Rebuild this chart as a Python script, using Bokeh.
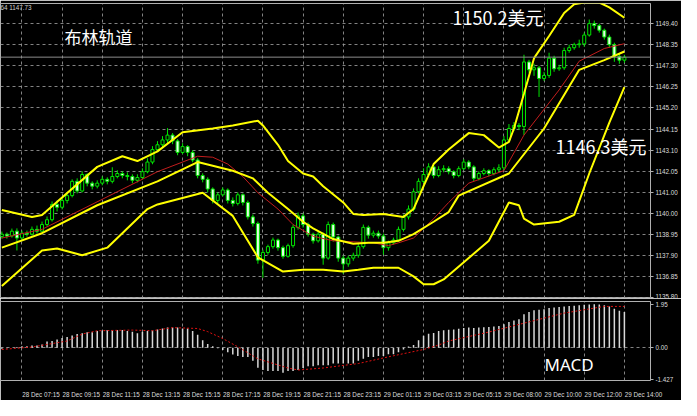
from bokeh.plotting import figure
from bokeh.models import Range1d, FixedTicker, Label, Span, ColumnDataSource
from bokeh.layouts import column
from bokeh.embed import file_html
from bokeh.resources import INLINE

# ---------------- data (M15 candles, bar index 0..124) ----------------
opens = [1138.80, 1138.92, 1138.83, 1139.07, 1138.73, 1138.97, 1138.92, 1139.16, 1139.07, 1139.40,
         1139.64, 1140.40, 1140.26, 1140.60, 1140.84, 1141.55, 1141.07, 1141.89, 1141.46, 1141.31,
         1141.46, 1141.65, 1141.55, 1141.79, 1141.94, 1141.84, 1141.79, 1141.60, 1141.74, 1142.03,
         1142.51, 1143.13, 1143.37, 1143.61, 1143.85, 1143.56, 1142.99, 1143.28, 1142.99, 1142.61,
         1141.84, 1141.65, 1141.17, 1140.60, 1140.88, 1141.12, 1140.60, 1140.45, 1140.88, 1140.50,
         1139.78, 1139.45, 1137.63, 1138.01, 1138.30, 1138.63, 1138.25, 1137.82, 1138.35, 1139.26,
         1139.83, 1139.40, 1138.92, 1138.59, 1138.92, 1137.73, 1139.40, 1138.78, 1137.73, 1137.44,
         1137.73, 1137.87, 1138.30, 1139.26, 1138.87, 1138.97, 1138.83, 1138.25, 1138.49, 1138.63,
         1139.16, 1139.78, 1140.17, 1141.03, 1141.55, 1141.89, 1142.27, 1141.84, 1142.13, 1142.18,
         1142.03, 1141.84, 1142.18, 1142.51, 1142.27, 1141.70, 1141.94, 1142.08, 1141.94, 1142.13,
         1142.22, 1143.61, 1144.18, 1144.33, 1144.28, 1147.49, 1147.10, 1147.20, 1146.67, 1146.82,
         1147.68, 1147.15, 1147.20, 1148.06, 1148.20, 1148.35, 1148.39, 1148.83, 1149.40, 1149.30,
         1149.07, 1148.73, 1148.35, 1147.77, 1147.58]
closes = [1138.92, 1138.83, 1139.07, 1138.73, 1138.97, 1138.92, 1139.16, 1139.07, 1139.40, 1139.64,
          1140.40, 1140.26, 1140.60, 1140.84, 1141.55, 1141.07, 1141.89, 1141.46, 1141.31, 1141.46,
          1141.65, 1141.55, 1141.79, 1141.94, 1141.84, 1141.79, 1141.60, 1141.74, 1142.03, 1142.51,
          1143.13, 1143.37, 1143.61, 1143.85, 1143.56, 1142.99, 1143.28, 1142.99, 1142.61, 1141.84,
          1141.65, 1141.17, 1140.60, 1140.88, 1141.12, 1140.60, 1140.45, 1140.88, 1140.50, 1139.78,
          1139.45, 1137.63, 1138.01, 1138.30, 1138.63, 1138.25, 1137.82, 1138.35, 1139.26, 1139.83,
          1139.40, 1138.92, 1138.59, 1138.92, 1137.73, 1139.40, 1138.78, 1137.73, 1137.44, 1137.73,
          1137.87, 1138.30, 1139.26, 1138.87, 1138.97, 1138.83, 1138.25, 1138.49, 1138.63, 1139.16,
          1139.78, 1140.17, 1141.03, 1141.55, 1141.89, 1142.27, 1141.84, 1142.13, 1142.18, 1142.03,
          1141.84, 1142.18, 1142.51, 1142.27, 1141.70, 1141.94, 1142.08, 1141.94, 1142.13, 1142.22,
          1143.61, 1144.18, 1144.33, 1144.28, 1147.49, 1147.10, 1147.20, 1146.67, 1146.82, 1147.68,
          1147.15, 1147.20, 1148.06, 1148.20, 1148.35, 1148.39, 1148.83, 1149.40, 1149.30, 1149.07,
          1148.73, 1148.35, 1147.77, 1147.58, 1147.73]
highs = [1139.05, 1139.00, 1139.20, 1139.21, 1139.10, 1139.10, 1139.30, 1139.35, 1139.55, 1139.80,
         1140.55, 1140.60, 1140.75, 1141.00, 1141.65, 1141.70, 1142.05, 1141.95, 1141.55, 1141.60,
         1141.80, 1141.75, 1142.25, 1142.10, 1142.05, 1142.00, 1141.90, 1141.90, 1142.20, 1142.70,
         1143.30, 1143.55, 1143.80, 1144.20, 1143.95, 1143.65, 1143.45, 1143.35, 1143.10, 1142.70,
         1141.95, 1141.75, 1141.25, 1141.00, 1141.25, 1141.20, 1140.75, 1141.00, 1140.95, 1140.60,
         1139.90, 1139.55, 1138.15, 1138.40, 1138.75, 1138.70, 1138.35, 1138.45, 1139.40, 1140.00,
         1139.95, 1139.50, 1139.00, 1139.05, 1139.00, 1139.55, 1139.50, 1138.85, 1137.85, 1137.85,
         1138.00, 1138.45, 1139.40, 1139.35, 1139.10, 1139.10, 1138.95, 1138.60, 1138.75, 1139.30,
         1139.90, 1140.35, 1141.20, 1141.70, 1142.20, 1142.45, 1142.35, 1142.30, 1142.35, 1142.30,
         1142.10, 1142.30, 1142.65, 1142.60, 1142.35, 1142.05, 1142.20, 1142.15, 1142.25, 1142.40,
         1143.80, 1144.40, 1144.50, 1144.45, 1147.85, 1147.60, 1147.40, 1147.30, 1147.00, 1147.95,
         1147.80, 1147.35, 1148.20, 1148.35, 1148.45, 1148.60, 1148.95, 1149.60, 1149.55, 1149.40,
         1149.15, 1148.85, 1148.45, 1147.90, 1147.85]
lows = [1138.70, 1138.70, 1138.75, 1138.11, 1138.60, 1138.80, 1138.85, 1138.95, 1139.00, 1139.30,
        1139.55, 1140.05, 1140.15, 1140.45, 1140.75, 1140.95, 1141.00, 1141.30, 1141.15, 1141.20,
        1141.35, 1141.40, 1141.45, 1141.70, 1141.70, 1141.60, 1141.45, 1141.50, 1141.65, 1141.95,
        1142.40, 1143.00, 1143.25, 1143.45, 1143.40, 1142.85, 1142.90, 1142.80, 1142.50, 1141.70,
        1141.50, 1141.00, 1140.45, 1140.45, 1140.80, 1140.45, 1140.30, 1140.35, 1140.35, 1139.65,
        1139.30, 1137.45, 1136.75, 1137.90, 1138.20, 1138.10, 1137.70, 1137.75, 1138.25, 1139.15,
        1139.25, 1138.80, 1138.45, 1138.50, 1137.40, 1137.65, 1138.55, 1137.55, 1136.95, 1137.30,
        1137.60, 1137.75, 1138.20, 1138.70, 1138.75, 1138.70, 1137.90, 1138.10, 1138.40, 1138.55,
        1139.05, 1139.65, 1140.05, 1140.95, 1141.45, 1141.80, 1141.70, 1141.75, 1142.00, 1141.90,
        1141.70, 1141.75, 1142.10, 1142.15, 1141.55, 1141.60, 1141.85, 1141.80, 1141.85, 1142.00,
        1142.10, 1143.50, 1144.05, 1144.10, 1143.85, 1146.95, 1146.80, 1145.75, 1146.55, 1146.70,
        1147.00, 1147.05, 1147.10, 1147.95, 1148.10, 1148.20, 1148.25, 1148.75, 1149.15, 1148.95,
        1148.60, 1148.20, 1147.50, 1147.40, 1147.45]

# Bollinger band (yellow) read at sample bars
upper_bar = [0, 6, 8, 19, 24, 27, 31, 36, 42, 46, 51, 52, 55, 57, 60, 62, 64, 68, 70, 72, 76, 80, 82,
             84, 86, 89, 93, 96, 99, 101, 102, 104, 106, 109, 112, 114, 116, 119, 121, 124]
upper_val = [1140.12, 1139.78, 1139.88, 1142.27, 1142.80, 1142.56, 1143.04, 1143.99, 1144.18, 1144.33,
             1144.57, 1144.33, 1143.37, 1142.56, 1141.94, 1141.79, 1141.31, 1140.50, 1139.93, 1139.88,
             1139.93, 1139.78, 1140.17, 1141.31, 1142.41, 1143.13, 1143.95, 1143.85, 1143.23, 1143.51,
             1144.18, 1145.91, 1147.68, 1148.78, 1149.93, 1150.36, 1150.45, 1150.45, 1150.21, 1149.69]
middle_bar = [0, 8, 19, 31, 39, 46, 50, 53, 57, 60, 62, 66, 70, 73, 76, 79, 82, 86, 89, 91, 101, 108,
              115, 120, 124]
middle_val = [1138.25, 1138.97, 1140.36, 1141.55, 1142.51, 1142.08, 1141.70, 1140.98, 1140.17, 1139.54,
              1139.21, 1138.68, 1138.44, 1138.49, 1138.49, 1138.59, 1138.92, 1139.54, 1140.02, 1140.84,
              1141.94, 1144.18, 1147.10, 1147.58, 1148.01]
lower_bar = [0, 8, 11, 16, 21, 29, 31, 40, 46, 51, 56, 60, 64, 68, 71, 74, 79, 82, 84, 86, 88, 97,
             101, 103, 104, 106, 111, 114, 117, 121, 124]
lower_val = [1136.34, 1138.11, 1138.21, 1137.87, 1138.25, 1140.17, 1140.40, 1140.98, 1139.83, 1137.77,
             1137.06, 1137.15, 1137.15, 1137.06, 1137.15, 1137.25, 1137.25, 1136.82, 1136.43, 1136.43,
             1136.67, 1138.59, 1140.50, 1140.36, 1139.69, 1139.40, 1139.54, 1139.88, 1141.94, 1144.47,
             1146.24]
# red moving average
ma_bar = [0, 8, 31, 39, 42, 45, 48, 51, 55, 58, 62, 66, 74, 77, 79, 82, 86, 89, 93, 100, 104, 111,
          115, 120, 124]
ma_val = [1138.73, 1139.16, 1142.03, 1142.80, 1142.75, 1142.41, 1141.79, 1140.98, 1140.17, 1139.40,
          1138.82, 1138.59, 1138.49, 1138.35, 1138.49, 1138.73, 1139.69, 1140.50, 1141.46, 1142.08,
          1143.85, 1146.10, 1147.53, 1148.16, 1148.40]

# MACD histogram per bar and signal line samples
macd = [-0.05, -0.03, 0.00, 0.03, 0.07, 0.07, 0.10, 0.10, 0.14, 0.28,
        0.30, 0.37, 0.44, 0.48, 0.55, 0.61, 0.65, 0.69, 0.69, 0.75,
        0.77, 0.79, 0.79, 0.79, 0.79, 0.75, 0.72, 0.65, 0.72, 0.75,
        0.77, 0.82, 0.86, 0.90, 0.90, 0.90, 0.86, 0.86, 0.75, 0.58,
        0.33, 0.17, 0.07, -0.03, -0.10, -0.20, -0.30, -0.37, -0.42, -0.42,
        -0.58, -0.90, -1.00, -1.04, -1.04, -1.04, -1.12, -1.04, -1.04, -1.00,
        -0.91, -0.83, -0.83, -0.79, -0.79, -0.79, -0.71, -0.71, -0.71, -0.71,
        -0.71, -0.58, -0.50, -0.42, -0.42, -0.37, -0.37, -0.29, -0.29, -0.20,
        -0.08, 0.05, 0.12, 0.33, 0.54, 0.62, 0.66, 0.75, 0.78, 0.80,
        0.82, 0.85, 0.88, 0.90, 0.88, 0.90, 0.92, 0.93, 0.95, 0.97,
        1.05, 1.15, 1.22, 1.28, 1.50, 1.60, 1.68, 1.70, 1.72, 1.78,
        1.80, 1.82, 1.85, 1.87, 1.88, 1.90, 1.92, 1.94, 1.95, 1.94,
        1.90, 1.85, 1.75, 1.65, 1.60]
signal_bar = [0, 6, 13, 16, 19, 26, 30, 34, 39, 41, 44, 47, 51, 57, 59, 64, 71, 77, 84, 87, 89, 97,
              104, 112, 120, 124]
signal_val = [-0.08, 0.03, 0.30, 0.61, 0.76, 0.79, 0.76, 0.90, 0.86, 0.72, 0.41, 0.04, -0.50, -0.91,
              -1.00, -0.91, -0.71, -0.41, -0.08, 0.12, 0.30, 0.70, 1.10, 1.55, 1.85, 1.85]

# axes
time_bars = [4, 12, 20, 28, 36, 44, 52, 60, 68, 76, 84, 92, 100, 108, 116, 124]
time_labels = ["28 Dec 07:15", "28 Dec 09:15", "28 Dec 11:15", "28 Dec 13:15", "28 Dec 15:15",
               "28 Dec 17:15", "28 Dec 19:15", "28 Dec 21:15", "28 Dec 23:15", "29 Dec 01:15",
               "29 Dec 03:15", "29 Dec 05:15", "29 Dec 08:00", "29 Dec 10:00", "29 Dec 12:00",
               "29 Dec 14:00"]
price_ticks = [1149.40, 1148.35, 1147.30, 1146.25, 1145.20, 1144.15, 1143.10, 1142.05, 1141.00,
               1139.95, 1138.90, 1137.85, 1136.80, 1135.75]
price_labels = ["1149.40", "1148.35", "1147.30", "1146.25", "1145.20", "1144.15", "1143.10",
                "1142.05", "1141.00", "1140.00", "1138.95", "1137.90", "1136.85", "1135.80"]
macd_ticks = [1.95, 0.0, -1.427]
macd_labels = ["1.95", "0.00", "-1.427"]

# ---------------- styling ----------------
BG = "black"
GRID = "#9a9a9a"
AXTXT = "#dcdcdc"
LIME = "#00e400"
AXFONT = "Liberation Sans"
AXSIZE = "6.3px"
CJK = "Noto Sans CJK SC"

xr = Range1d(-0.27, 129.2)

p = figure(width=681, height=298, x_range=xr, y_range=Range1d(1135.72, 1150.40),
           output_backend="svg", toolbar_location=None, x_axis_location=None,
           y_axis_location="right", min_border_top=3, min_border_bottom=0,
           min_border_left=0, min_border_right=31,
           background_fill_color=BG, border_fill_color=BG, outline_line_color="#b0b0b0")

p.xgrid.ticker = FixedTicker(ticks=time_bars)
p.ygrid.ticker = FixedTicker(ticks=price_ticks)
for g in (p.xgrid, p.ygrid):
    g.grid_line_color = GRID
    g.grid_line_dash = "3 3"
    g.grid_line_alpha = 0.85

ya = p.yaxis[0]
ya.ticker = FixedTicker(ticks=price_ticks)
ya.major_label_overrides = {t: s for t, s in zip(price_ticks, price_labels)}
ya.major_label_text_color = AXTXT
ya.major_label_text_font = AXFONT
ya.major_label_text_font_size = AXSIZE
ya.major_tick_out = 3
ya.major_tick_in = 0
ya.major_tick_line_color = "#b0b0b0"
ya.minor_tick_line_color = None
ya.axis_line_color = None
ya.major_label_standoff = 2

# current price line
p.add_layout(Span(location=closes[-1], dimension="width", line_color="#8c8c8c", line_width=1))

# candles
idx = list(range(len(closes)))
body_top = [max(o, c) for o, c in zip(opens, closes)]
body_bot = [min(o, c) for o, c in zip(opens, closes)]
fills = ["black" if c >= o else "#e6ffe6" for o, c in zip(opens, closes)]
src = ColumnDataSource(dict(x=idx, h=highs, l=lows, t=body_top, b=body_bot, f=fills))
p.segment(x0="x", y0="h", x1="x", y1="l", source=src, line_color=LIME, line_width=1)
p.vbar(x="x", top="t", bottom="b", width=0.6, source=src, fill_color="f", line_color=LIME,
       line_width=1)

# indicators
p.line(ma_bar, ma_val, line_color="#c21d1d", line_width=1)
p.line(upper_bar, upper_val, line_color="#ffff00", line_width=2)
p.line(middle_bar, middle_val, line_color="#ffff00", line_width=2)
p.line(lower_bar, lower_val, line_color="#ffff00", line_width=2)

# text annotations
p.add_layout(Label(x=0, y=295, x_units="screen", y_units="screen", text="64 1147.73",
                   text_color="#d0d0d0", text_font=AXFONT, text_font_size=AXSIZE,
                   text_baseline="top"))
p.add_layout(Label(x=64, y=275, x_units="screen", y_units="screen", text="布林轨道",
                   text_color="white", text_font=CJK, text_font_size="17px",
                   text_baseline="top"))
p.add_layout(Label(x=452, y=295, x_units="screen", y_units="screen", text="1150.2美元",
                   text_color="white", text_font=CJK, text_font_size="18px",
                   text_baseline="top"))
p.add_layout(Label(x=555, y=166, x_units="screen", y_units="screen", text="1146.3美元",
                   text_color="white", text_font=CJK, text_font_size="18px",
                   text_baseline="top"))
p.add_layout(Label(x=653, y=closes[-1], x_units="screen", y_units="data", text="1147.73",
                   text_color="black", text_font=AXFONT, text_font_size=AXSIZE,
                   text_baseline="middle", background_fill_color="white",
                   border_line_color="#b0b0b0"))

# ---------------- MACD panel ----------------
m = figure(width=681, height=102, x_range=xr, y_range=Range1d(-1.47, 2.07),
           output_backend="svg", toolbar_location=None, y_axis_location="right",
           min_border_top=3, min_border_bottom=17, min_border_left=0, min_border_right=31,
           background_fill_color=BG, border_fill_color=BG, outline_line_color="#b0b0b0")

m.xgrid.ticker = FixedTicker(ticks=time_bars)
m.ygrid.ticker = FixedTicker(ticks=[0.0])
for g in (m.xgrid, m.ygrid):
    g.grid_line_color = GRID
    g.grid_line_dash = "3 3"
    g.grid_line_alpha = 0.85

my = m.yaxis[0]
my.ticker = FixedTicker(ticks=macd_ticks)
my.major_label_overrides = {t: s for t, s in zip(macd_ticks, macd_labels)}
my.major_label_text_color = AXTXT
my.major_label_text_font = AXFONT
my.major_label_text_font_size = AXSIZE
my.major_tick_out = 3
my.major_tick_in = 0
my.major_tick_line_color = "#b0b0b0"
my.minor_tick_line_color = None
my.axis_line_color = None
my.major_label_standoff = 2

# x labels sit to the right of their grid line, like the terminal draws them
label_pos = [b + 3.8 for b in time_bars]
mx = m.xaxis[0]
mx.ticker = FixedTicker(ticks=label_pos)
mx.major_label_overrides = {t: s for t, s in zip(label_pos, time_labels)}
mx.major_label_text_color = AXTXT
mx.major_label_text_font = AXFONT
mx.major_label_text_font_size = AXSIZE
mx.major_tick_line_color = None
mx.minor_tick_line_color = None
mx.axis_line_color = None
mx.major_label_standoff = 4

m.vbar(x=idx, top=macd, bottom=0, width=0.3, fill_color="#d8d8d8", line_color=None)
m.line(signal_bar, signal_val, line_color="#e01010", line_width=1, line_dash="2 2")

m.add_layout(Label(x=544, y=5, x_units="screen", y_units="screen", text="MACD",
                   text_color="white", text_font="Noto Sans", text_font_size="17px",
                   text_baseline="bottom"))

layout = column(p, m, spacing=0)
open("out.html", "w").write(file_html(layout, INLINE))
